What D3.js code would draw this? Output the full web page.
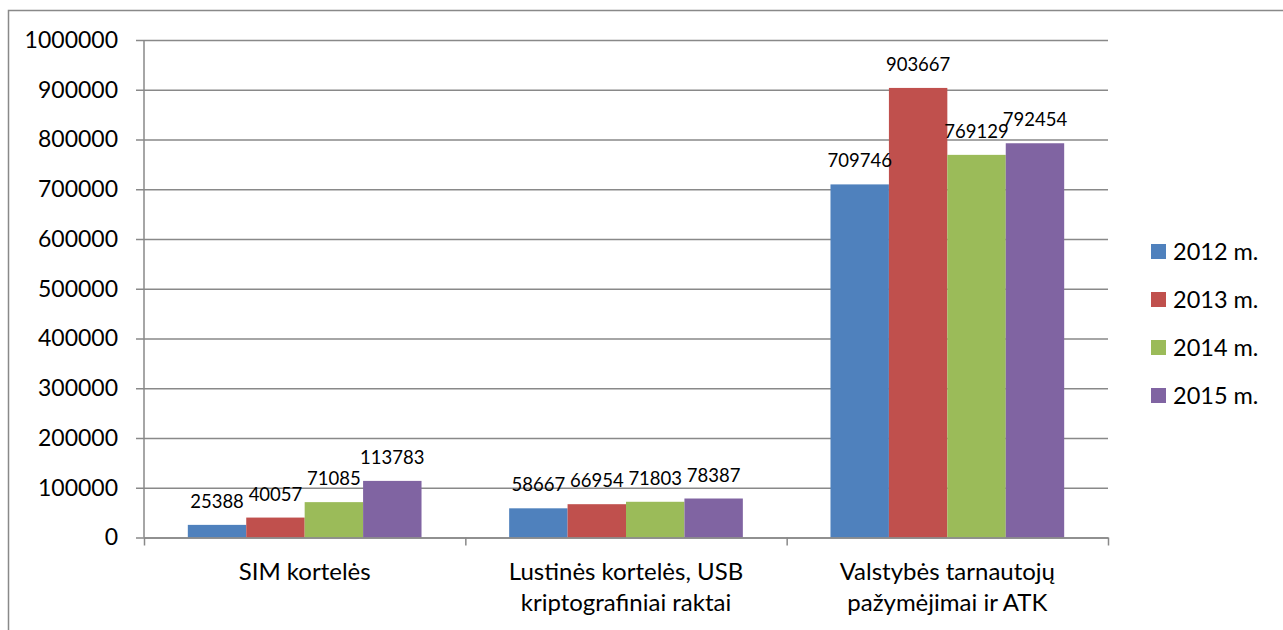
<!DOCTYPE html>
<html>
<head>
<meta charset="utf-8">
<script src="https://cdn.jsdelivr.net/npm/d3@7"></script>
<style>
  body { margin: 0; background: #fff; }
  text { font-family: Lato, "Open Sans", sans-serif; fill: #000; }
</style>
</head>
<body>
<div id="chart"></div>
<script>
// Chart data.
const categories = ["SIM kortelės", "Lustinės kortelės, USB kriptografiniai raktai", "Valstybės tarnautojų pažymėjimai ir ATK"];
const categoryLines = [
  ["SIM kortelės"],
  ["Lustinės kortelės, USB", "kriptografiniai raktai"],
  ["Valstybės tarnautojų", "pažymėjimai ir ATK"]
];
const seriesNames = ["2012 m.", "2013 m.", "2014 m.", "2015 m."];
const values2012 = [25388, 58667, 709746];
const values2013 = [40057, 66954, 903667];
const values2014 = [71085, 71803, 769129];
const values2015 = [113783, 78387, 792454];
const yTicks = [0, 100000, 200000, 300000, 400000, 500000, 600000, 700000, 800000, 900000, 1000000];
const colors = ["#4F81BD", "#C0504D", "#9BBB59", "#8064A2"];

const seriesValues = [values2012, values2013, values2014, values2015];

// Sizes.
let width = 1283;
let height = 630;
let plotLeft = 144, plotRight = 1108, plotTop = 40, plotBottom = 537.5;
let gray = "#898989";

let svg = d3.select("#chart")
  .append("svg")
    .attr("width", width)
    .attr("height", height);

// Outer chart border (only left and top visible).
svg.append("path")
  .attr("d", "M8.5,630 L8.5,10.5 L1283,10.5")
  .attr("fill", "none")
  .attr("stroke", gray)
  .attr("stroke-width", 1.5);

// Scales.
let y = d3.scaleLinear().domain([0, 1000000]).range([plotBottom, plotTop]);
let x0 = d3.scaleBand().domain(categories).range([plotLeft, plotRight]).padding(0);
let x1 = d3.scaleBand().domain(seriesNames).range([0, x0.bandwidth()])
  .paddingInner(0).paddingOuter(0.75);

// Horizontal gridlines.
svg.append("g")
  .attr("transform", "translate(" + plotLeft + ",0)")
  .call(d3.axisLeft(y).tickValues(yTicks).tickSize(-(plotRight - plotLeft)).tickFormat(""))
  .call(g => g.select(".domain").remove())
  .call(g => g.selectAll("line").attr("stroke", gray).attr("stroke-width", 1.5));

// Y axis with tick labels.
svg.append("g")
  .attr("transform", "translate(" + plotLeft + ",0)")
  .call(d3.axisLeft(y).tickValues(yTicks).tickSize(8).tickPadding(18).tickSizeOuter(0).tickFormat(d3.format("d")))
  .call(g => g.select(".domain").remove())
  .call(g => g.selectAll("line").attr("stroke", gray).attr("stroke-width", 1.5))
  .call(g => g.selectAll("text")
    .attr("font-size", "23px")
    .attr("font-family", "Lato, sans-serif")
    .attr("fill", "#000"));

// Bars.
let groups = svg.selectAll(".group")
  .data(categories)
  .enter()
  .append("g")
    .attr("class", "group")
    .attr("transform", d => "translate(" + x0(d) + ",0)");

groups.selectAll("rect")
  .data((d, i) => seriesNames.map((s, j) => ({ series: s, value: seriesValues[j][i], color: colors[j] })))
  .enter()
  .append("rect")
    .attr("x", d => x1(d.series))
    .attr("y", d => y(d.value))
    .attr("width", x1.bandwidth())
    .attr("height", d => plotBottom - y(d.value))
    .attr("fill", d => d.color);

// Data labels above bars.
groups.selectAll(".label")
  .data((d, i) => seriesNames.map((s, j) => ({ series: s, value: seriesValues[j][i] })))
  .enter()
  .append("text")
    .attr("class", "label")
    .attr("x", d => x1(d.series) + x1.bandwidth() / 2)
    .attr("y", d => y(d.value) - 17)
    .attr("text-anchor", "middle")
    .attr("font-size", "18.5px")
    .text(d => d.value);

// Y axis line.
svg.append("line")
  .attr("x1", plotLeft).attr("x2", plotLeft)
  .attr("y1", plotTop).attr("y2", plotBottom)
  .attr("stroke", gray).attr("stroke-width", 1.5);

// X axis with ticks at category boundaries.
let xb = d3.scaleLinear().domain([0, categories.length]).range([plotLeft, plotRight]);
svg.append("g")
  .attr("transform", "translate(0," + plotBottom + ")")
  .call(d3.axisBottom(xb).tickValues(d3.range(categories.length + 1)).tickSize(8).tickSizeOuter(0).tickFormat(""))
  .call(g => g.select(".domain").attr("stroke", gray).attr("stroke-width", 1.5))
  .call(g => g.selectAll("line").attr("stroke", gray).attr("stroke-width", 1.5));

// Category labels.
svg.selectAll(".cat")
  .data(categories)
  .enter()
  .append("text")
    .attr("class", "cat")
    .attr("x", d => x0(d) + x0.bandwidth() / 2)
    .attr("y", 580)
    .attr("text-anchor", "middle")
    .attr("font-size", "24px")
    .selectAll("tspan")
    .data((d, i) => categoryLines[i])
    .enter()
    .append("tspan")
      .attr("x", function() { return this.parentNode.getAttribute("x"); })
      .attr("dy", (d, i) => i === 0 ? 0 : 31)
      .text(d => d);

// Legend.
let legend = svg.selectAll(".legend")
  .data(seriesNames)
  .enter()
  .append("g")
    .attr("class", "legend")
    .attr("transform", (d, i) => "translate(1151," + (251.5 + i * 48) + ")");

legend.append("rect")
  .attr("x", 0)
  .attr("y", -7.5)
  .attr("width", 15)
  .attr("height", 15)
  .attr("fill", (d, i) => colors[i]);

legend.append("text")
  .attr("x", 22)
  .attr("y", 0)
  .attr("dy", "0.36em")
  .attr("font-size", "23.5px")
  .text(d => d);
</script>
</body>
</html>
